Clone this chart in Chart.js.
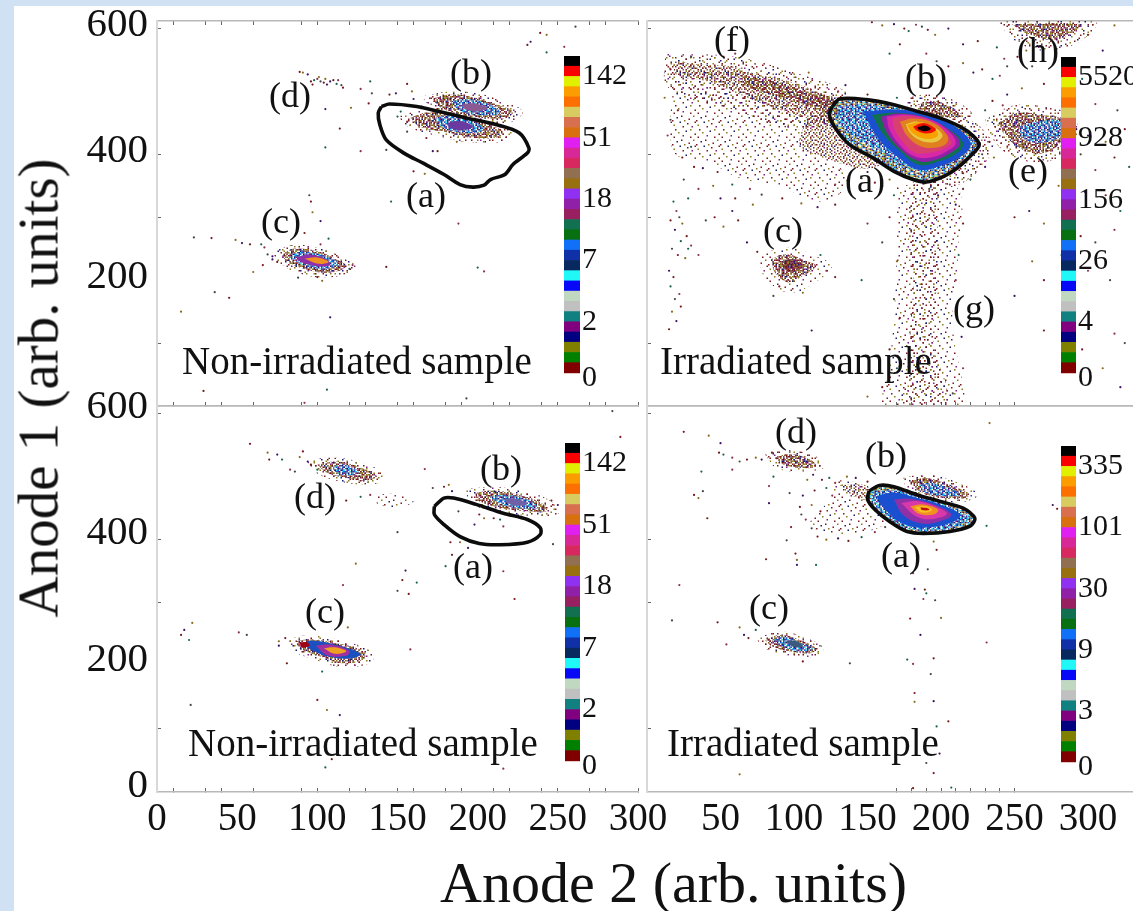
<!DOCTYPE html>
<html>
<head>
<meta charset="utf-8">
<script src="https://cdn.jsdelivr.net/npm/chart.js@4"></script>
<style>
html, body { margin: 0; padding: 0; background: #cfe1f2; overflow: hidden; }
#sheet { position: absolute; left: 14px; top: 6px; width: 1119px; height: 905px; background: #fff; }
canvas { position: absolute; left: 0; top: 0; filter: blur(0.4px); }
.axisTitle { position: absolute; font-family: "Liberation Serif", serif; color: #111; white-space: nowrap; line-height: 1; filter: blur(0.4px); }
</style>
</head>
<body>
<div id="sheet"></div>
<canvas id="plotA" width="1133" height="911"></canvas>
<canvas id="plotB" width="1133" height="911"></canvas>
<canvas id="plotC" width="1133" height="911"></canvas>
<canvas id="plotD" width="1133" height="911"></canvas>
<canvas id="barA" width="1133" height="911"></canvas>
<canvas id="barB" width="1133" height="911"></canvas>
<canvas id="barC" width="1133" height="911"></canvas>
<canvas id="barD" width="1133" height="911"></canvas>
<div class="axisTitle" style="left:440px;top:854px;font-size:58px;">Anode 2 (arb. units)</div>
<div class="axisTitle" style="left:38px;top:388px;font-size:57px;transform:translate(-50%,-50%) rotate(-90deg);">Anode 1 (arb. units)</div>
<script>
// tick values
const leftXTicks = [0, 10, 30, 40, 50, 60, 90, 100, 120, 130, 150, 160, 180, 190, 200, 210, 220, 240, 250, 270, 280, 300];
const leftXLabels = [0, 50, 100, 150, 200, 250, 300];
const leftXHidden = [50, 200];
const rightXTicks = [0, 50, 100, 150, 170, 180, 190, 200, 210, 220, 230, 240, 250, 300];
const rightXLabels = [50, 100, 150, 200, 250, 300];
const rightXHidden = [50, 100, 150, 300];
const yTicks = [0, 100, 200, 300, 400, 600];
const yHidden = [0, 200];

// colour scale
const barLevels = [0, 5, 11, 17, 23, 29];
const barLabelsA = ['0', '2', '7', '18', '51', '142'];
const barLabelsB = ['0', '4', '26', '156', '928', '5520'];
const barLabelsC = ['0', '2', '7', '18', '51', '142'];
const barLabelsD = ['0', '3', '9', '30', '101', '335'];
const barColors = ['#800000', '#008000', '#808000', '#000080', '#800080', '#108080', '#c0c0c0', '#c0d8c0',
    '#0808f8', '#20f8f8', '#082860', '#1030a8', '#1070f8', '#087010', '#107050', '#982060', '#9020a8', '#9030f0',
    '#987010', '#907050', '#d82860', '#d82898', '#e020f0', '#d87010', '#d87050', '#d8cc60', '#fb7000', '#fb9c00',
    '#e0f000', '#fb0000', '#000000'];

// Non-irradiated, first run
const a_contour = [[140,476],[145,480],[162,476],[176,468],[193,458],[212,447],[226,434],[232,410],[231,402],[222,384],[217,368],[208,360],[204,351],[197,348],[189,352],[179,368],[166,386],[154,402],[143,423],[139,447],[138,466]];
const a_bHalo = [[165,492],[183,500],[200,497],[218,482],[228,468],[222,452],[200,452],[180,462],[170,478]];
const a_bOuter = [[172,489],[183,495],[195,492],[212,479],[222,468],[218,458],[203,458],[189,463],[176,476]];
const a_bBlue = [[183,484],[193,488],[208,479],[214,466],[203,462],[189,469]];
const a_bCore = [[190,479],[198,481],[206,474],[200,468],[192,472]];
const a_lowHalo = [[150,460],[168,472],[186,470],[204,458],[222,436],[215,420],[192,420],[174,430],[158,442]];
const a_lowOuter = [[158,458],[168,466],[183,466],[199,455],[216,436],[212,427],[195,427],[179,436],[164,444]];
const a_lowBlue = [[172,458],[185,462],[198,452],[204,439],[193,434],[179,442]];
const a_lowCore = [[181,450],[189,453],[197,444],[191,439],[183,442]];
const a_cHalo = [[72,245],[85,256],[103,250],[116,236],[124,220],[110,205],[90,210],[76,228]];
const a_cOuter = [[78,241],[85,250],[100,246],[112,233],[118,222],[108,212],[93,217],[81,230]];
const a_cBlue = [[82,238],[89,245],[102,241],[113,227],[104,217],[91,224]];
const a_cPurple = [[87,236],[95,241],[106,233],[108,224],[100,222],[89,230]];
const a_cOrange = [[92,234],[100,236],[107,229],[101,226]];
const a_dots = [[89,531],[91,530],[94,527],[96,516],[98,518],[100,520],[102,516],[104,514],[105,520],[108,516],[110,518],[112,512],[113,518],[115,510],[116,506],[101,523],[106,511],[97,511],
    [133,516],[127,504],[134,497],[132,481],[121,474],[105,472],[114,441],[105,411],[127,405],[143,407],[160,373],[167,369],[172,405],[175,405],[146,325],[188,290],[95,335],[96,325],[97,308],[102,294],[92,275],[107,266],[102,257],
    [23,268],[34,267],[49,264],[53,259],[58,257],[65,257],[67,252],[69,241],[66,224],[60,213],[72,233],[143,221],[200,220],[204,214],[36,181],[45,172],[15,150],[108,141],[29,24],[106,26],[92,5],[193,12],
    [239,593],[243,590],[233,579],[231,574],[243,562],[254,571],[261,603],[156,512],[159,500],[149,497],[145,495],[152,468],[156,452],[156,436],[168,426],[187,420],[72,238],[75,229],[120,218],[122,224],[88,204],[100,205],[103,199],[160,488],[165,476],[150,460]];

// Irradiated, first run
const b_contour = [[126,476],[131,488],[149,487],[168,479],[183,469],[199,458],[213,444],[222,429],[226,415],[222,402],[211,378],[202,365],[190,356],[181,360],[168,373],[154,394],[138,415],[128,442],[124,463]];
const b_inner = [[129,476],[150,479],[168,471],[184,462],[199,450],[212,436],[222,418],[213,400],[199,378],[188,373],[174,384],[158,407],[143,426],[132,447]];
const b_blue = [[147,468],[172,471],[195,463],[211,442],[220,418],[215,399],[199,381],[184,376],[170,397],[157,426]];
const b_teal = [[153,463],[170,466],[190,458],[206,439],[215,418],[211,402],[195,386],[184,384],[172,405],[161,431]];
const b_purple = [[159,460],[172,465],[191,457],[206,438],[213,418],[207,403],[194,390],[184,390],[172,409],[163,435]];
const b_magenta = [[163,460],[177,463],[193,455],[205,437],[210,418],[204,405],[193,395],[182,397],[172,415],[165,439]];
const b_crimson = [[167,458],[179,461],[193,452],[203,434],[207,418],[202,409],[191,402],[182,403],[174,420],[168,442]];
const b_khaki = [[172,452],[181,457],[195,450],[204,431],[204,418],[197,411],[186,413],[177,429]];
const b_orange = [[176,448],[184,452],[195,444],[201,431],[199,423],[194,419],[186,422],[179,434]];
const b_yellow = [[177,447],[186,451],[195,442],[198,431],[194,425],[186,427],[180,435]];
const b_red = [[181,444],[188,450],[196,442],[196,437],[190,433],[184,437]];
const b_black = [[184,443],[189,446],[193,441],[190,437],[185,439]];
const b_ridgeHalo = [[12,560],[60,555],[100,530],[135,500],[140,470],[105,440],[60,470],[15,505]];
const b_ridge = [[18,548],[41,542],[57,540],[75,527],[97,516],[122,495],[134,484],[126,474],[123,452],[109,458],[86,474],[63,495],[41,516],[20,527]];
const b_ridgeCore = [[63,527],[86,516],[109,500],[127,487],[123,468],[109,479],[86,495],[68,508]];
const b_lowDense = [[109,458],[123,468],[129,431],[143,405],[158,384],[145,378],[122,394],[104,415]];
const b_fan = [[18,521],[63,495],[109,458],[104,415],[122,394],[136,362],[122,325],[86,352],[63,362],[41,389],[18,405]];
const b_columnHalo = [[170,350],[210,350],[212,250],[208,130],[216,20],[214,0],[162,0],[165,60],[168,150],[170,250]];
const b_column = [[181,357],[199,357],[197,310],[199,257],[197,177],[195,98],[204,29],[202,0],[174,0],[177,45],[179,124],[181,204],[177,283]];
const b_cHalo = [[76,240],[95,252],[118,235],[126,222],[110,190],[96,180],[80,205]];
const b_c = [[84,233],[95,241],[109,230],[115,222],[104,204],[97,196],[88,209]];
const b_cCore = [[92,230],[101,233],[106,222],[98,212],[93,220]];
const b_bHalo = [[176,490],[195,495],[215,478],[222,458],[195,452],[180,465]];
const b_b = [[184,479],[195,485],[208,474],[214,460],[199,460],[188,469]];
const b_eHalo = [[230,455],[250,478],[272,475],[290,460],[292,420],[275,390],[250,395],[235,425]];
const b_e = [[239,450],[252,466],[267,463],[282,455],[282,423],[270,402],[256,407],[244,429]];
const b_eCore = [[253,444],[265,452],[281,452],[281,429],[267,418],[256,426]];
const b_hHalo = [[238,612],[305,612],[298,585],[275,565],[252,578]];
const b_h = [[248,607],[295,607],[290,595],[277,582],[261,590]];
const b_rimHalo = [[190,345],[215,355],[235,405],[232,430],[218,455],[200,440],[195,380]];
const b_dots = [[153,610],[160,605],[168,607],[175,600],[178,596],[183,606],[187,603],[191,598],[196,590],[205,600],[172,575],[165,560],[190,560],[197,548],[205,540],[215,545],[222,530],[228,535],[235,520],[240,525],[245,540],[252,555],[258,565],[215,575],[225,580],[238,570],[243,552],[262,540],[270,512],[255,505],[245,495],[235,485],[230,470],[242,478],[285,500],
    [300,590],[318,605],[310,565],[322,530],[296,520],[305,480],[320,470],[325,440],[312,420],[300,430],[318,395],[328,380],[305,375],[295,400],[290,375],[280,350],[298,340],[312,335],[322,310],[318,280],[305,260],[295,270],[270,290],[260,310],[250,300],[282,240],[300,215],[315,200],[270,200],[262,230],[250,175],[285,160],[300,150],[318,115],[325,100],[296,90],[310,60],[322,30],[270,120],
    [18,325],[20,310],[22,300],[16,295],[24,290],[19,280],[27,270],[23,262],[30,255],[17,250],[21,240],[26,235],[15,215],[18,205],[16,190],[22,178],[19,170],[23,158],[17,150],[20,135],[15,122],[28,250],[35,240],[40,295],[46,300],[52,285],[58,310],[62,295],[28,330],[35,345],[25,360],[32,380],[45,350],
    [68,260],[75,245],[118,240],[122,215],[86,175],[90,190],[106,180],[112,120],[128,205],[146,200],[150,290],[160,260],[165,300],[170,230],[210,320],[215,290],[212,240],[210,200],[168,170],[172,140],[210,150],[214,110],[165,90],[170,60],[215,60],[208,20],[160,30],[150,15],[198,335],[215,345],[168,335],[160,350],
    [228,400],[233,420],[236,395],[230,380],[215,370],[220,360],[206,352],[192,345],[240,440],[236,455],[292,440],[288,425],[285,410],[60,560],[30,555],[16,535],[110,530],[135,510],[150,495],[170,490],[130,500],[145,345],[155,355],[165,360],[150,372],
    [24,395],[30,412],[14,430],[16,455],[21,470],[12,490],[38,378],[48,372],[58,352],[70,345],[78,336],[92,330],[105,322],[116,316],[128,320],[138,340],[128,352],[146,362],[60,330],[72,320],[50,330]];

// Non-irradiated, second run
const c_contour = [[173,453],[179,466],[185,466],[199,456],[216,442],[231,432],[239,419],[239,408],[231,396],[214,392],[201,394],[189,405],[179,424],[173,440]];
const c_bHalo = [[192,480],[210,484],[230,476],[245,462],[250,440],[232,438],[212,444],[196,458]];
const c_bOuter = [[198,474],[210,478],[226,471],[240,458],[243,445],[231,445],[216,450],[201,461]];
const c_bBlue = [[207,469],[218,471],[231,464],[237,450],[226,450],[214,457]];
const c_bCore = [[216,465],[224,465],[231,457],[224,454],[219,458]];
const c_dHalo = [[93,526],[112,530],[130,520],[143,502],[135,488],[115,492],[100,505]];
const c_dOuter = [[100,519],[112,524],[125,516],[137,501],[131,494],[118,498],[106,506]];
const c_dCore = [[110,517],[118,519],[126,507],[118,502],[111,508]];
const c_d2 = [[135,470],[150,473],[160,460],[148,452],[137,458]];
const c_cHalo = [[82,244],[96,248],[115,240],[133,224],[134,206],[116,198],[98,210],[84,226]];
const c_cOuter = [[87,239],[95,242],[112,236],[129,223],[129,211],[116,204],[102,215],[89,228]];
const c_cBlue = [[90,236],[98,240],[112,233],[127,219],[122,212],[108,214],[98,223]];
const c_cPurple = [[99,232],[108,234],[120,224],[118,216],[106,217]];
const c_cOrange = [[104,228],[112,229],[118,223],[111,219]];
const c_cRed = [[89,237],[94,237],[95,231],[90,230]];
const c_dots = [[58,552],[69,538],[75,535],[70,527],[78,527],[83,511],[86,508],[91,540],[89,531],[94,524],[96,519],[100,511],[167,512],[172,482],[179,484],[182,487],[184,477],[118,462],[127,468],[133,471],
    [188,445],[201,440],[204,434],[198,424],[210,434],[214,432],[216,421],[150,412],[183,396],[189,396],[194,387],[184,376],[180,358],[216,350],[247,393],[223,306],[124,362],[155,351],[153,336],[162,332],[116,328],[150,319],[157,314],
    [22,268],[17,257],[15,249],[20,241],[51,253],[56,249],[80,244],[76,239],[76,232],[81,204],[103,191],[158,226],[21,138],[100,146],[106,130],[114,122],[109,52],[105,39],[216,37],[284,604],[289,563],[119,261],[250,455],[246,462]];

// Irradiated, second run
const d_contour = [[151,477],[158,486],[168,484],[184,471],[199,461],[215,450],[223,434],[220,422],[206,413],[188,410],[177,413],[165,429],[155,448],[150,464]];
const d_inner = [[153,474],[168,478],[184,468],[199,458],[214,443],[219,433],[204,418],[188,414],[176,420],[164,436],[156,452]];
const d_blue = [[156,469],[168,475],[184,466],[199,456],[213,440],[208,428],[188,419],[174,426],[162,448]];
const d_purple = [[168,464],[179,465],[195,456],[207,440],[199,429],[186,426],[174,440]];
const d_magenta = [[173,458],[184,461],[197,452],[204,441],[195,433],[184,436]];
const d_orange = [[179,453],[188,456],[198,448],[195,440],[185,441]];
const d_yellow = [[182,452],[190,453],[194,447],[187,443]];
const d_red = [[186,451],[191,450],[192,447],[187,447]];
const d_bHalo = [[174,498],[190,504],[210,492],[225,472],[215,460],[193,463],[178,476]];
const d_b = [[180,493],[190,498],[206,487],[219,471],[213,465],[195,469],[184,479]];
const d_bBlue = [[185,487],[193,490],[206,482],[213,471],[204,469],[190,474]];
const d_dHalo = [[80,536],[97,542],[115,532],[122,516],[104,508],[88,514]];
const d_d = [[87,530],[97,536],[111,527],[115,516],[104,514],[93,519]];
const d_tail = [[129,495],[143,490],[151,479],[152,453],[163,429],[145,411],[122,411],[111,426],[122,458]];
const d_tailDense = [[131,487],[150,485],[152,464],[140,469]];
const d_cHalo = [[74,244],[91,254],[106,246],[120,228],[112,214],[95,217],[80,228]];
const d_c = [[80,241],[91,249],[104,241],[115,228],[111,220],[97,223],[85,231]];
const d_cBlue = [[85,240],[93,246],[104,237],[113,228],[106,223],[95,228]];
const d_cCore = [[94,239],[102,239],[106,231],[100,230]];
const d_dots = [[25,571],[42,565],[50,553],[49,538],[52,535],[58,530],[63,524],[68,527],[74,530],[78,527],[85,538],[37,508],[58,511],[38,477],[32,471],[35,466],[83,458],[41,434],[86,500],[83,485],[97,474],[104,452],[109,495],[113,503],[119,495],[124,498],[128,490],
    [95,399],[101,378],[102,368],[102,360],[81,369],[115,360],[22,328],[17,272],[48,269],[63,261],[66,249],[69,244],[74,257],[54,234],[138,204],[106,207],[233,585],[276,455],[279,449],[231,422],[181,347],[191,353],[197,384],[195,397],
    [182,322],[189,321],[190,315],[188,306],[196,304],[179,275],[200,276],[186,249],[195,212],[177,210],[181,203],[193,187],[182,157],[182,143],[195,144],[205,112],[197,104],[231,237],[190,46],[195,30],[63,28],[199,61],[181,6],[207,7],
    [108,432],[112,418],[116,405],[122,400],[130,402],[137,398],[146,404],[155,412],[162,420],[118,445],[112,455],[106,470],[114,478],[122,482],[126,470],[105,440],[98,420],[136,500],[142,498],[150,492]];

// text inside the panels, placed by centre
const notesA = [['(d)', 290, 98], ['(b)', 471, 75], ['(a)', 426, 198], ['(c)', 281, 224]];
const notesB = [['(f)', 732, 42], ['(b)', 926, 80], ['(h)', 1038, 53], ['(a)', 865, 183], ['(e)', 1028, 173], ['(c)', 783, 233], ['(g)', 974, 311]];
const notesC = [['(d)', 315, 499], ['(b)', 501, 471], ['(a)', 473, 569], ['(c)', 325, 614]];
const notesD = [['(d)', 796, 434], ['(b)', 886, 458], ['(a)', 901, 558], ['(c)', 769, 610]];

const serif = 'Liberation Serif';
const dotColors = ['#7a1420', '#8a6a20', '#3a1060', '#6b1a1a', '#1a6050', '#8a3050', '#444444'];
const tileColors = {r: '#7a1a20', o: '#8a7a20', b: '#8a5a40', n: '#1a1a70', p: '#802080', c: '#40e0f0', u: '#1060e0', w: '#ffffff', g: '#909090', y: '#d8c840', t: '#108080'};

const sparseTile = ['r.......o.......', '.....n.........r', '..........r.....', '.o..............', '.......r.....p..', '................', '..r.........o...', '.........n......', '....o...........', '...............r', '.......p........', '.r..........r...', '................', '......r.......o.', '...n............', '...........r....'];
const mediumTile = ['r.o..n.r..b..r.o', '..b.r...o.r.n...', '.r...p.b...o..r.', 'o..r...r.n..b...', '..n.o.b...r...r.', 'r...r..o.b..p...', '.b.o..r...r..o.r', '...r.n..o...b...', 'o.r...b..r.n..r.', '..p.o...r..o...b', 'r...b.r...b..r..', '.o.r...n.o..r.o.', '..r..o..r...b...', 'b...r.p...o..n.r', '.r.o...b.r..o...', '...n.r...o.r..b.'];
const denseTile = ['rp.orb.pr.obnrpo', 'o.nrb.rr.nb.ro.n', '.bro.pn.ro.pr.br', 'pr.nbo.rp.nr.ob.', 'r.ob.rr.no.pbr.o', '.npr.o.br.n.or.p', 'or.bp.nro.br.p.r', 'b.r.no.r.pr.no.b', 'rp.or.bn.ro.pr.o', '.o.nrp.r.b.nr.o.', 'nr.b.or.pn.r.bo.', 'r.po.nb.or.pn.r.', '.bn.r.po.nb.ro.p', 'o.rp.b.nr.op.r.n', 'pr.o.nr.b.rn.o.r', '.n.rb.op.r.ob.n.'];
const ringTile = ['yuwrcobwuyrnwcbo', 'owbynucwrobuywcr', 'uryw.cbonuwrbycu', 'wbcoruywnbcoyurw', 'cnuwybrcuwon.brc', 'ybrouwcnrybuwcoy', 'uwcyb.ruocwnybur', 'robuwcynurbwcoun', 'ywnrcubowyucrnbw', 'cubwoyrucnwbyour', 'wroucbnywrucobnw', 'buyncwrouybwnrcu', 'ocwrbuynwocrbuyo', 'nyuowcbrnuywocrb', 'ucbrynwucorbwunc', 'wrocunybwucrnoyw'];
const blueTile = ['cunwcupuwcnuwcuw', 'ucwupcnwucpwnucp', 'wpucnwucwupcwuwn', 'cnwuwcpunwcuwncu', 'uwpcunwcupwucwpu', 'nucwupcwnuwpucnw', 'cwupnwucpwnucwup', 'upcwunwcuwcpunwc', 'wnucpwuncupwnucw', 'cuwnucwpuwncuwpn', 'upnwcupuwcnpucwu', 'wcuwnpucnwucwpnu', 'nupcuwnwucpunwcu', 'cwnuwpcuwnucwupc', 'upcwnucwpunwcupw', 'wnuwcpnucwupnwcu'];

const cell = 1.5;

function stampTile(g, rows, width, height) {
    const period = rows[0].length * cell;
    const periodY = rows.length * cell;
    for (let oy = 0; oy < height; oy += periodY) {
        for (let ox = 0; ox < width; ox += period) {
            rows.forEach((row, y) => {
                row.split('').forEach((c, x) => {
                    if (tileColors[c]) {
                        g.fillStyle = tileColors[c];
                        g.fillRect(ox + x * cell, oy + y * cell, cell, cell);
                    }
                });
            });
        }
    }
}

// turn tiles of letters into a canvas fill; a second, shorter copy breaks up the repeat
function speckle(rows, layered) {
    const tile = document.createElement('canvas');
    tile.width = 168;
    tile.height = 168;
    const g = tile.getContext('2d');
    stampTile(g, rows, 168, 168);
    if (layered) {
        const shortRows = rows.slice(0, 14).reverse().map(r => r.slice(1, 15));
        stampTile(g, shortRows, 168, 168);
    }
    return g.createPattern(tile, 'repeat');
}

const faint = speckle(sparseTile, false);
const sparse = speckle(sparseTile, true);
const thin = speckle(mediumTile, false);
const medium = speckle(mediumTile, true);
const dense = speckle(denseTile, true);
const ring = speckle(ringTile, false);
const bluish = speckle(blueTile, false);

function area(points, fill) {
    return {
        data: points.concat([points[0]]), showLine: true, fill: 'shape', tension: 0.4,
        backgroundColor: fill, borderWidth: 0, pointRadius: 0
    };
}
function dots(points) {
    return {
        data: points, showLine: false, pointRadius: 1.1, pointBorderWidth: 0,
        pointBackgroundColor: ctx => dotColors[ctx.dataIndex % dotColors.length]
    };
}
function outline(points) {
    return {
        data: points.concat([points[0]]), showLine: true, fill: false, tension: 0.3,
        borderColor: '#0c0c0c', borderWidth: 3.6, pointRadius: 0
    };
}

// axis box sized by hand so that all four panels line up
function fixedBox(size) {
    return scale => {
        if (scale.isHorizontal()) {
            scale.height = size;
        } else {
            scale.width = size;
        }
        scale.paddingLeft = scale.paddingRight = scale.paddingTop = scale.paddingBottom = 0;
    };
}

function xAxis(position, size, list, labels, hidden, showLabels, xMax) {
    return {
        type: 'linear', position: position, min: 0, max: xMax,
        afterBuildTicks: s => { s.ticks = list.map(v => ({value: v})); },
        afterFit: fixedBox(size),
        border: {color: '#b8b8b8', width: 1.5},
        grid: {drawOnChartArea: false, tickLength: -4, tickWidth: 1,
            tickColor: ctx => (ctx.tick && hidden.includes(ctx.tick.value)) ? 'rgba(0,0,0,0)' : '#666666'},
        ticks: {display: showLabels, autoSkip: false, maxRotation: 0, padding: 8, color: '#111',
            font: {family: serif, size: 39},
            callback: v => labels.includes(v) ? String(v) : ''}
    };
}

function yAxis(size, labels, showLabels, offset) {
    return {
        type: 'linear', position: 'left', min: 0, max: 612,
        afterBuildTicks: s => { s.ticks = yTicks.map(v => ({value: v})); },
        afterFit: fixedBox(size),
        border: {color: '#d8d8d8', width: 2},
        grid: {drawOnChartArea: false, tickLength: -4, tickWidth: 1,
            tickColor: ctx => (ctx.tick && yHidden.includes(ctx.tick.value)) ? 'rgba(0,0,0,0)' : '#666666'},
        ticks: {display: showLabels, autoSkip: false, padding: 13, color: '#111', labelOffset: offset,
            font: {family: serif, size: 41},
            callback: v => labels.includes(v) ? String(v) : ''}
    };
}

function textPlugin(notes, caption, captionX, captionY) {
    return {
        id: 'panelText',
        afterDatasetsDraw(chart) {
            const c = chart.ctx;
            c.save();
            c.fillStyle = '#111';
            c.textBaseline = 'middle';
            c.textAlign = 'center';
            c.font = '36px "' + serif + '"';
            notes.forEach(n => c.fillText(n[0], n[1], n[2]));
            c.textAlign = 'left';
            c.font = '39px "' + serif + '"';
            c.fillText(caption, captionX, captionY);
            c.restore();
        }
    };
}

function panel(id, layers, box, xList, xLabels, xHidden, xMax, showXLabels, topTicks, yLabels, yOffset, plugin) {
    return new Chart(document.getElementById(id), {
        type: 'scatter',
        data: {datasets: layers.slice().reverse()},
        plugins: [plugin],
        options: {
            responsive: false, animation: false, events: [], devicePixelRatio: 1,
            layout: {autoPadding: false, padding: {left: 0, right: 1133 - box[1], top: 0, bottom: 0}},
            plugins: {legend: {display: false}, tooltip: {enabled: false}},
            scales: {
                x: xAxis('bottom', 911 - box[3], xList, xLabels, xHidden, showXLabels, xMax),
                xTop: xAxis('top', box[2], xList, [], topTicks ? xHidden : xList, false, xMax),
                y: yAxis(box[0], yLabels, yLabels.length > 0, yOffset)
            }
        }
    });
}

function colorBar(id, labels, box) {
    return new Chart(document.getElementById(id), {
        type: 'bar',
        data: {
            labels: [''],
            datasets: barColors.map(c => ({data: [1], backgroundColor: c, barPercentage: 1, categoryPercentage: 1}))
        },
        options: {
            responsive: false, animation: false, events: [], devicePixelRatio: 1,
            layout: {autoPadding: false, padding: {left: box[0], right: 0, top: box[2], bottom: 911 - box[3] - 5}},
            plugins: {legend: {display: false}, tooltip: {enabled: false}},
            scales: {
                x: {stacked: true, display: false},
                y: {
                    stacked: true, position: 'right', min: -0.5, max: 31,
                    afterBuildTicks: s => { s.ticks = [-0.5].concat(barLevels.slice(1)).map(v => ({value: v})); },
                    afterFit: fixedBox(1133 - box[1]),
                    border: {display: false},
                    grid: {display: false, drawTicks: false},
                    ticks: {autoSkip: false, padding: 2, color: '#111', font: {family: serif, size: 30},
                        callback: (v, i) => labels[i]}
                }
            }
        }
    });
}

panel('plotA', [
    area(a_bHalo, sparse), area(a_lowHalo, sparse), area(a_cHalo, sparse),
    area(a_bOuter, medium), area(a_lowOuter, medium), area(a_cOuter, medium),
    area(a_bBlue, bluish), area(a_lowBlue, bluish), area(a_cBlue, bluish),
    area(a_bCore, '#8a5a90'), area(a_lowCore, '#6a3aa0'), area(a_cPurple, '#9030a8'), area(a_cOrange, '#f09020'),
    dots(a_dots), outline(a_contour)
], [157, 638, 21, 406], leftXTicks, leftXLabels, leftXHidden, 300, false, true, [600, 400, 200], -3,
    textPlugin(notesA, 'Non-irradiated sample', 182, 364));

panel('plotB', [
    area(b_fan, faint), area(b_ridgeHalo, sparse), area(b_ridge, thin), area(b_ridgeCore, medium), area(b_lowDense, thin),
    area(b_columnHalo, faint), area(b_column, sparse), area(b_cHalo, faint), area(b_c, medium), area(b_cCore, dense),
    area(b_bHalo, sparse), area(b_b, medium), area(b_rimHalo, sparse),
    area(b_eHalo, sparse), area(b_e, medium), area(b_eCore, bluish), area(b_hHalo, sparse), area(b_h, medium),
    dots(b_dots),
    area(b_contour, ring), area(b_inner, bluish),
    area(b_blue, '#1a4fd0'), area(b_teal, '#107050'), area(b_purple, '#9020a8'), area(b_magenta, '#d828a8'),
    area(b_crimson, '#d84070'), area(b_khaki, '#e08020'), area(b_orange, '#e8c840'), area(b_yellow, '#f8a000'),
    area(b_red, '#f01000'), area(b_black, '#0a0008'),
    outline(b_contour)
], [647, 1133, 21, 406], rightXTicks, rightXLabels, rightXHidden, 330.6, false, false, [], 0,
    textPlugin(notesB, 'Irradiated sample', 660, 364));

panel('plotC', [
    area(c_bHalo, sparse), area(c_dHalo, sparse), area(c_cHalo, sparse),
    area(c_bOuter, medium), area(c_dOuter, medium), area(c_d2, faint), area(c_cOuter, medium),
    area(c_bBlue, bluish), area(c_dCore, bluish), area(c_cBlue, '#1a50c0'),
    area(c_bCore, '#7060a8'), area(c_cPurple, '#a030a0'), area(c_cOrange, '#f0a020'), area(c_cRed, '#a00018'),
    dots(c_dots), outline(c_contour)
], [157, 638, 406, 792], leftXTicks, leftXLabels, leftXHidden, 300, true, false, [600, 400, 200, 0], -6,
    textPlugin(notesC, 'Non-irradiated sample', 188, 746));

panel('plotD', [
    area(d_tail, faint), area(d_tailDense, thin), area(d_bHalo, sparse), area(d_b, medium), area(d_bBlue, bluish),
    area(d_dHalo, sparse), area(d_d, medium), area(d_cHalo, sparse), area(d_c, medium), area(d_cBlue, bluish), area(d_cCore, '#3a5a80'),
    dots(d_dots),
    area(d_contour, ring), area(d_inner, bluish), area(d_blue, '#1a50d0'), area(d_purple, '#9030a8'),
    area(d_magenta, '#d838a8'), area(d_orange, '#f09020'), area(d_yellow, '#f8c020'), area(d_red, '#c01010'),
    outline(d_contour)
], [647, 1133, 406, 792], rightXTicks, rightXLabels, rightXHidden, 330.6, true, false, [], 0,
    textPlugin(notesD, 'Irradiated sample', 667, 746));

colorBar('barA', barLabelsA, [564, 580, 56, 373]);
colorBar('barB', barLabelsB, [1061, 1076, 57, 373]);
colorBar('barC', barLabelsC, [565, 580, 443, 761]);
colorBar('barD', barLabelsD, [1061, 1076, 446, 762]);
</script>
</body>
</html>
